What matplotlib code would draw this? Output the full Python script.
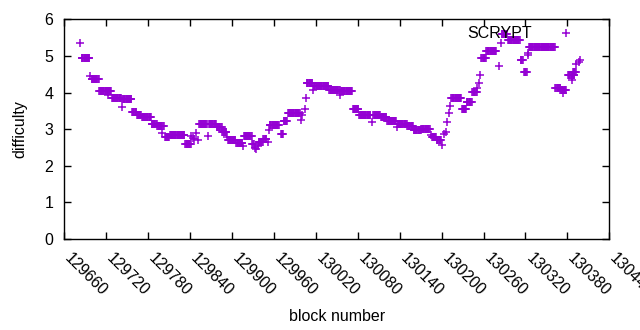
"""SCRYPT difficulty per block, gnuplot-style scatter of '+' marks."""
import matplotlib
matplotlib.use("Agg")
import matplotlib.pyplot as plt
import matplotlib.transforms as mtransforms
import numpy as np

run_start = [
    129682, 129685, 129697, 129699, 129710, 129718, 129722, 129728, 129742, 129743,
    129757, 129764, 129771, 129785, 129793, 129800, 129804, 129811, 129833, 129842,
    129844, 129846, 129849, 129851, 129853, 129866, 129867, 129878, 129886, 129893,
    129894, 129906, 129916, 129917, 129929, 129933, 129935, 129937, 129938, 129945,
    129952, 129953, 129954, 129970, 129974, 129980, 129999, 130000, 130004, 130006,
    130007, 130016, 130017, 130039, 130055, 130056, 130073, 130082, 130101, 130102,
    130113, 130122, 130136, 130137, 130151, 130160, 130171, 130185, 130186, 130193,
    130200, 130204, 130206, 130208, 130210, 130212, 130214, 130229, 130236, 130244,
    130251, 130253, 130255, 130257, 130264, 130282, 130285, 130286, 130295, 130313,
    130318, 130323, 130324, 130325, 130363, 130371, 130374, 130381, 130386, 130388,
    130393, 130396, 130398,
]
run_end = [
    129682, 129696, 129697, 129709, 129717, 129727, 129722, 129741, 129742, 129756,
    129763, 129770, 129784, 129792, 129802, 129800, 129810, 129832, 129841, 129842,
    129844, 129846, 129849, 129851, 129864, 129866, 129877, 129885, 129892, 129893,
    129905, 129915, 129916, 129928, 129931, 129933, 129935, 129937, 129944, 129949,
    129952, 129953, 129967, 129973, 129979, 129997, 129999, 130000, 130004, 130006,
    130015, 130016, 130038, 130054, 130055, 130072, 130081, 130098, 130101, 130112,
    130121, 130135, 130136, 130150, 130159, 130170, 130183, 130185, 130192, 130199,
    130200, 130204, 130206, 130208, 130210, 130212, 130228, 130235, 130243, 130250,
    130251, 130253, 130255, 130263, 130278, 130282, 130285, 130293, 130312, 130316,
    130322, 130323, 130324, 130362, 130370, 130378, 130374, 130390, 130386, 130392,
    130393, 130396, 130398,
]
run_diff = [
    5.34, 4.93, 4.45, 4.36, 4.05, 4.03, 3.93, 3.86, 3.61, 3.83,
    3.47, 3.38, 3.32, 3.15, 3.08, 2.90, 2.79, 2.85, 2.58, 2.82,
    2.77, 2.72, 2.90, 2.70, 3.13, 2.82, 3.13, 3.07, 2.93, 2.79,
    2.70, 2.61, 2.53, 2.81, 2.59, 2.48, 2.45, 2.54, 2.66, 2.72,
    2.65, 2.97, 3.10, 2.88, 3.23, 3.43, 3.24, 3.38, 3.56, 3.86,
    4.25, 4.06, 4.17, 4.08, 3.93, 4.03, 3.54, 3.38, 3.20, 3.38,
    3.32, 3.22, 3.06, 3.15, 3.08, 2.97, 3.00, 2.83, 2.79, 2.70,
    2.56, 2.88, 2.92, 3.20, 3.43, 3.63, 3.84, 3.56, 3.73, 4.02,
    4.11, 4.26, 4.47, 4.93, 5.14, 4.72, 5.34, 5.61, 5.43, 4.88,
    4.56, 5.02, 5.09, 5.23, 4.12, 4.07, 4.00, 4.47, 4.34, 4.55,
    4.79, 4.84, 4.88,
]

x_ticks = list(range(129660, 130441, 60))
y_ticks = [0, 1, 2, 3, 4, 5, 6]

PURPLE = "#9400d3"
FS = 11.5

blocks = np.concatenate([np.arange(s, e + 1) for s, e in zip(run_start, run_end)])
diffs = np.concatenate([np.full(e - s + 1, d) for s, e, d in zip(run_start, run_end, run_diff)])

plt.rcParams["font.family"] = ["Liberation Sans", "DejaVu Sans"]

fig = plt.figure(figsize=(6.4, 3.3), dpi=100)
ax = fig.add_axes([0.1005, 0.276, 0.8515, 0.6655])

ax.plot(blocks, diffs, linestyle="none", marker="+", markersize=6,
        markeredgewidth=1.1, color=PURPLE, label="SCRYPT")

ax.set_xlim(x_ticks[0], x_ticks[-1])
ax.set_ylim(0, 6)
ax.set_xticks(x_ticks)
ax.set_xticklabels([])
# rotated labels starting right under each tick, gnuplot-like
lab_tr = ax.get_xaxis_transform() + mtransforms.ScaledTranslation(
    3 / 100, -17 / 100, fig.dpi_scale_trans)
for t in x_ticks:
    ax.text(t, 0, str(t), transform=lab_tr, rotation=-45, ha="left",
            va="center", rotation_mode="anchor", fontsize=FS, clip_on=False)
ax.set_yticks(y_ticks)
ax.set_yticklabels([str(t) for t in y_ticks], fontsize=FS)
ax.tick_params(direction="in", length=5, width=1, top=True, right=True,
               color="black")
ax.tick_params(axis="y", pad=8)
for sp in ax.spines.values():
    sp.set_linewidth(1)
    sp.set_color("black")

ax.set_xlabel("block number", fontsize=FS)
ax.xaxis.set_label_coords(0.5, -0.32)
ax.set_ylabel("difficulty", fontsize=FS, labelpad=12)

ax.legend(loc="upper right", bbox_to_anchor=(0.97, 1.012), frameon=False,
          markerfirst=False, handlelength=2.2, handletextpad=1.0,
          fontsize=FS, borderaxespad=0.2)

fig.savefig("out.png", dpi=100)
